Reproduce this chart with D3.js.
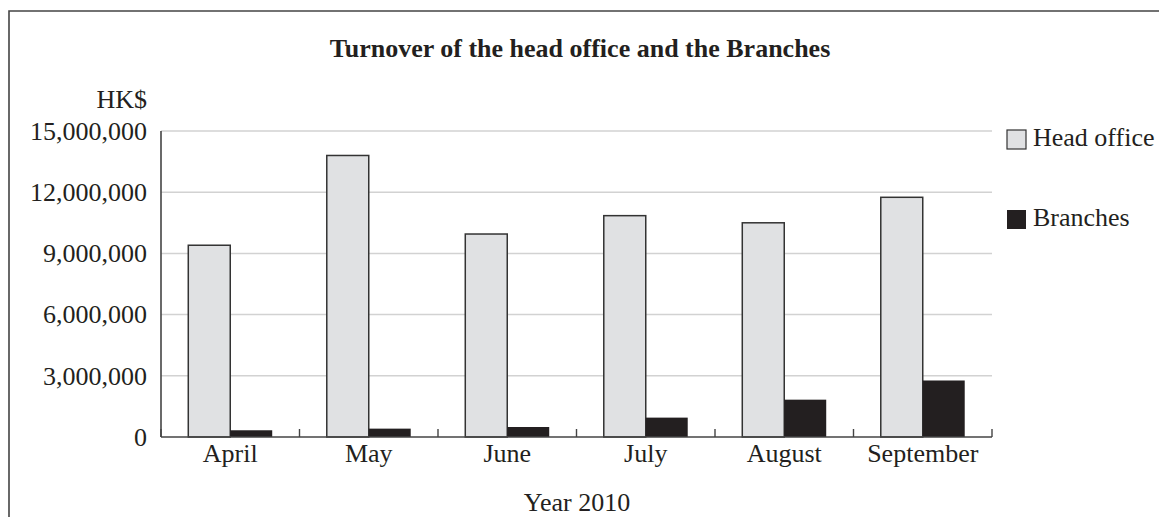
<!DOCTYPE html>
<html>
<head>
<meta charset="utf-8">
<script src="https://cdn.jsdelivr.net/npm/d3@7"></script>
<style>
  html, body { margin: 0; padding: 0; background: #fff; }
  svg { display: block; font-family: "Liberation Serif", "Times New Roman", serif; }
</style>
</head>
<body>
<svg id="chart" width="1159" height="517"></svg>
<script>
// Monthly turnover, 2010 (HK$)
const months = ["April", "May", "June", "July", "August", "September"];
const headOffice = [9400000, 13800000, 9950000, 10850000, 10500000, 11750000];
const branches = [330000, 410000, 490000, 950000, 1830000, 2770000];
const seriesNames = ["Head office", "Branches"];
const yTicks = [0, 3000000, 6000000, 9000000, 12000000, 15000000];

const colors = { "Head office": "#e0e1e3", "Branches": "#231f20" };

const svg = d3.select("#chart");
const W = 1159, H = 517;
const plot = { left: 161, right: 992, top: 131, bottom: 437 };

// Outer frame (top and left edges)
svg.append("path")
  .attr("d", `M9,${H} V11 H${W}`)
  .attr("fill", "none")
  .attr("stroke", "#444")
  .attr("stroke-width", 1.6);

const x = d3.scaleBand().domain(months).range([plot.left, plot.right]).padding(0);
const xSub = d3.scaleBand().domain(seriesNames).range([0, x.bandwidth()])
  .paddingInner(0).paddingOuter(0.65);
const y = d3.scaleLinear().domain([0, 15000000]).range([plot.bottom, plot.top]);

const fmt = d3.format(",");

// Horizontal gridlines
svg.append("g")
  .selectAll("line")
  .data(yTicks.filter(d => d > 0))
  .join("line")
  .attr("x1", plot.left).attr("x2", plot.right)
  .attr("y1", d => y(d)).attr("y2", d => y(d))
  .attr("stroke", "#d2d2d2")
  .attr("stroke-width", 1.5);

// Y tick labels
svg.append("g")
  .selectAll("text")
  .data(yTicks)
  .join("text")
  .attr("x", 147)
  .attr("y", d => y(d))
  .attr("dy", "0.34em")
  .attr("text-anchor", "end")
  .attr("font-size", 26)
  .attr("fill", "#231f20")
  .text(d => fmt(d));

// Unit label
svg.append("text")
  .attr("x", 147).attr("y", 108)
  .attr("text-anchor", "end")
  .attr("font-size", 26)
  .attr("fill", "#231f20")
  .text("HK$");

// Bars
const rows = months.map((m, i) => ({ month: m, values: [
  { key: "Head office", value: headOffice[i] },
  { key: "Branches", value: branches[i] }
]}));

const groups = svg.append("g")
  .selectAll("g")
  .data(rows)
  .join("g")
  .attr("transform", d => `translate(${x(d.month)},0)`);

groups.selectAll("rect")
  .data(d => d.values)
  .join("rect")
  .attr("x", d => xSub(d.key))
  .attr("width", xSub.bandwidth())
  .attr("y", d => y(d.value))
  .attr("height", d => y(0) - y(d.value))
  .attr("fill", d => colors[d.key])
  .attr("stroke", d => d.key === "Head office" ? "#333" : "none")
  .attr("stroke-width", 1.5);

// Axis lines
svg.append("line")
  .attr("x1", plot.left).attr("x2", plot.left)
  .attr("y1", plot.top).attr("y2", plot.bottom)
  .attr("stroke", "#444").attr("stroke-width", 1.6);
svg.append("line")
  .attr("x1", plot.left).attr("x2", plot.right)
  .attr("y1", plot.bottom).attr("y2", plot.bottom)
  .attr("stroke", "#444").attr("stroke-width", 1.6);

// Category boundary ticks (pointing up)
const boundaries = months.map(m => x(m)).concat([plot.right]);
svg.append("g")
  .selectAll("line")
  .data(boundaries)
  .join("line")
  .attr("x1", d => d).attr("x2", d => d)
  .attr("y1", plot.bottom).attr("y2", plot.bottom - 8)
  .attr("stroke", "#444").attr("stroke-width", 1.4);

// X labels
svg.append("g")
  .selectAll("text")
  .data(months)
  .join("text")
  .attr("x", d => x(d) + x.bandwidth() / 2)
  .attr("y", 462)
  .attr("text-anchor", "middle")
  .attr("font-size", 26)
  .attr("fill", "#231f20")
  .text(d => d);

// X axis title
svg.append("text")
  .attr("x", 577).attr("y", 511)
  .attr("text-anchor", "middle")
  .attr("font-size", 26)
  .attr("fill", "#231f20")
  .text("Year 2010");

// Chart title
svg.append("text")
  .attr("x", 580).attr("y", 57)
  .attr("text-anchor", "middle")
  .attr("font-size", 26)
  .attr("font-weight", "bold")
  .attr("fill", "#231f20")
  .text("Turnover of the head office and the Branches");

// Legend
const legend = svg.append("g")
  .selectAll("g")
  .data(seriesNames)
  .join("g")
  .attr("transform", (d, i) => `translate(1007,${i === 0 ? 130 : 210})`);

legend.append("rect")
  .attr("width", 19).attr("height", 19)
  .attr("fill", d => colors[d])
  .attr("stroke", d => d === "Head office" ? "#333" : "none")
  .attr("stroke-width", 1.2);

legend.append("text")
  .attr("x", 26).attr("y", 16)
  .attr("font-size", 26)
  .attr("fill", "#231f20")
  .text(d => d);
</script>
</body>
</html>
